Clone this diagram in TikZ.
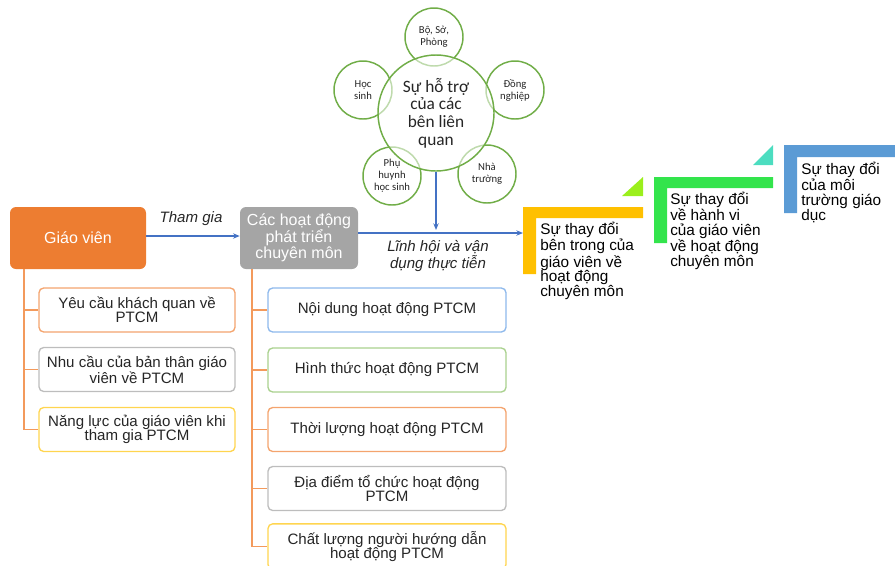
\documentclass[tikz,border=0pt]{standalone}
\usepackage{fontspec}
\setmainfont{Liberation Sans}
\newfontfamily\circfont{Carlito}
\usetikzlibrary{arrows.meta,calc}
\definecolor{orfill}{HTML}{ED7D31}
\definecolor{grfill}{HTML}{A5A5A5}
\definecolor{arrblue}{HTML}{4472C4}
\definecolor{treeor}{HTML}{F39A5C}
\definecolor{bdor}{HTML}{F4A46E}
\definecolor{bdgray}{HTML}{BDBDBD}
\definecolor{bdyel}{HTML}{FFD54F}
\definecolor{bdblue}{HTML}{8EB9EC}
\definecolor{bdgreen}{HTML}{A9D18E}
\definecolor{circgreen}{HTML}{70AD47}
\definecolor{stepyel}{HTML}{FFC000}
\definecolor{tria}{HTML}{9BEF1C}
\definecolor{stepgreen}{HTML}{33E44C}
\definecolor{trib}{HTML}{4CDDC0}
\definecolor{stepblue}{HTML}{5B9BD5}
\definecolor{txt}{HTML}{262626}
\begin{document}
\begin{tikzpicture}[x=0.75pt,y=-0.75pt,
  mainbox/.style={rounded corners=4.5pt, minimum height=46.5pt, align=center, text=white, inner sep=0pt},
  subbox/.style={draw=#1, fill=white, line width=1pt, rounded corners=3.5pt, minimum height=33pt, align=center, inner sep=0pt, text=txt, font=\fontsize{11.3}{10.7}\selectfont},
  tree/.style={draw=treeor, line width=1.15pt},
  conn/.style={arrblue, line width=0.9pt, -{Stealth[length=5pt,width=4pt]}},
  small/.style={circle, draw=circgreen, line width=1.1pt, minimum size=43.5pt, inner sep=0pt, fill=white, fill opacity=0.5, text opacity=1, align=center, text=txt, font=\circfont\fontsize{8}{9}\selectfont},
  big/.style={circle, draw=circgreen, line width=1.1pt, minimum size=87pt, inner sep=0pt, fill=white, fill opacity=0.55, text opacity=1, align=center, text=txt, font=\circfont\fontsize{13}{13.2}\selectfont},
  steptext/.style={anchor=north west, align=left, inner sep=0pt, text=black, font=\fontsize{11.5}{11}\selectfont},
  lbl/.style={align=center, inner sep=0pt, text=txt, font=\itshape\fontsize{11.3}{12.3}\selectfont}]
\useasboundingbox (0,0) rectangle (895,565);

% circles
\node[small] (bo) at (434,37) {Bộ, Sở,\\Phòng};
\node[small] (dong) at (515,90) {Đồng\\nghiệp};
\node[small] (nha) at (487,174) {Nhà\\trường};
\node[small] (phu) at (392,176) {Phụ\\huynh\\học sinh};
\node[small] (hoc) at (363,90) {Học\\sinh};
\node[big] (ctr) at (436,113) {Sự hỗ trợ\\của các\\bên liên\\quan};

% main boxes
\node[mainbox, fill=orfill, minimum width=102pt, font=\fontsize{12}{12}\selectfont] (gv) at (78,238) {Giáo viên};
\node[mainbox, fill=grfill, minimum width=88.5pt, font=\fontsize{12}{12.2}\selectfont] (hd) at (299,238) {Các hoạt động\\phát triển\\chuyên môn};

\draw[conn] (gv.east |- 0,236) -- (hd.west |- 0,236);
\node[lbl] (tg) at (191,219) {Tham gia};

% staircase
\fill[stepyel] (523,207) -- (643,207) -- (643,218) -- (536,218) -- (536,274) -- (523,274) -- cycle;
\fill[tria] (622,196) -- (643,196) -- (643,177) -- cycle;
\fill[stepgreen] (654,177) -- (773,177) -- (773,188) -- (667,188) -- (667,243) -- (654,243) -- cycle;
\fill[trib] (753,165) -- (773,165) -- (773,145) -- cycle;
\fill[stepblue] (784,145) -- (898,145) -- (898,157) -- (797,157) -- (797,213) -- (784,213) -- cycle;
\coordinate (yl) at (523,233);
\coordinate (jn) at (436,233);

\node[steptext] (t1) at (540,222) {Sự thay đổi\\bên trong của\\giáo viên về\\hoạt động\\chuyên môn};
\node[steptext] (t2) at (670,192) {Sự thay đổi\\về hành vi\\của giáo viên\\về hoạt động\\chuyên môn};
\node[steptext] (t3) at (801,162) {Sự thay đổi\\của môi\\trường giáo\\dục};

\draw[conn] (hd.east |- yl) -- (yl);
\draw[conn] (ctr.south) -- ($(jn)+(0,-3)$);
\node[lbl] (lh) at (438,256) {Lĩnh hội và vận\\dụng thực tiễn};

% left sub boxes
\node[subbox=bdor, minimum width=147pt] (l1) at (137,310) {Yêu cầu khách quan về\\PTCM};
\node[subbox=bdgray, minimum width=147pt] (l2) at (137,369.5) {Nhu cầu của bản thân giáo\\viên về PTCM};
\node[subbox=bdyel, minimum width=147pt] (l3) at (137,429.5) {Năng lực của giáo viên khi\\tham gia PTCM};
\coordinate (gt) at ($(gv.south west)+(14,0)$);
\draw[tree] (gt) |- (l3.west);
\draw[tree] (gt |- l1.west) -- (l1.west);
\draw[tree] (gt |- l2.west) -- (l2.west);

% middle sub boxes
\node[subbox=bdblue, minimum width=178.5pt] (m1) at (387,310) {Nội dung hoạt động PTCM};
\node[subbox=bdgreen, minimum width=178.5pt] (m2) at (387,370) {Hình thức hoạt động PTCM};
\node[subbox=bdor, minimum width=178.5pt] (m3) at (387,429.5) {Thời lượng hoạt động PTCM};
\node[subbox=bdgray, minimum width=178.5pt] (m4) at (387,488.5) {Địa điểm tổ chức hoạt động\\PTCM};
\node[subbox=bdyel, minimum width=178.5pt, minimum height=34pt] (m5) at (387,546.5) {Chất lượng người hướng dẫn\\hoạt động PTCM};
\coordinate (ht) at ($(hd.south west)+(12,0)$);
\draw[tree] (ht) |- (m5.west);
\draw[tree] (ht |- m1.west) -- (m1.west);
\draw[tree] (ht |- m2.west) -- (m2.west);
\draw[tree] (ht |- m3.west) -- (m3.west);
\draw[tree] (ht |- m4.west) -- (m4.west);
\end{tikzpicture}
\end{document}
